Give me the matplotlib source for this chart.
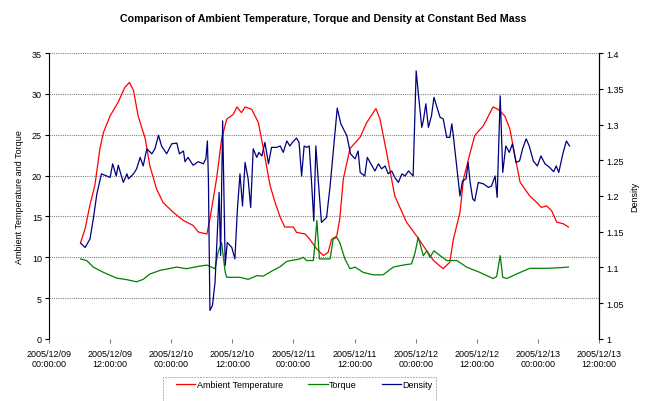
import datetime as dt
import matplotlib
matplotlib.use("Agg")
import matplotlib.pyplot as plt
import matplotlib.dates as mdates
from matplotlib.patches import Rectangle

plt.rcParams['font.family'] = ['Liberation Sans', 'DejaVu Sans']

# hours after 2005/12/09 00:00:00
temp_hours = [6.2, 7.1, 8.0, 9.0, 10.0, 10.7, 12.0, 13.6, 14.9, 15.8, 16.6, 17.5, 18.9, 19.8, 21.1, 22.4,
              24.4, 26.4, 28.3, 29.3, 31.0, 31.6, 32.9, 33.9, 34.9, 36.2, 36.9, 37.8, 38.5, 39.8, 41.1, 42.1,
              43.4, 44.4, 45.4, 46.3, 48.0, 48.6, 50.3, 51.2, 52.6, 53.9, 54.8, 55.5, 56.5, 57.1, 57.8, 59.1,
              61.1, 62.4, 64.2, 65.0, 66.3, 67.9, 70.2, 72.2, 73.5, 75.5, 77.4, 78.7, 79.4, 80.7, 81.4, 82.7,
              83.6, 85.3, 87.2, 88.2, 89.5, 90.5, 91.5, 92.5, 94.4, 95.8, 96.7, 97.7, 98.7, 99.7, 101.0, 102.0]
temperature = [11.8, 13.5, 16.3, 18.8, 23.3, 25.3, 27.3, 29.0, 30.8, 31.4, 30.4, 27.3, 24.5, 21.2, 18.4, 16.7,
               15.5, 14.5, 13.9, 13.1, 12.85, 14.7, 19.6, 24.5, 26.9, 27.5, 28.4, 27.7, 28.4, 28.1, 26.5, 23.3,
               18.8, 16.7, 14.9, 13.7, 13.7, 13.05, 12.85, 12.2, 11.0, 10.2, 10.6, 12.2, 12.6, 14.7, 19.6, 23.3,
               24.7, 26.5, 28.2, 26.9, 22.8, 17.5, 14.3, 12.6, 11.4, 9.6, 8.6, 9.4, 12.2, 15.5, 19.6, 22.8,
               24.9, 26.1, 28.4, 28.1, 27.3, 25.7, 22.4, 19.2, 17.5, 16.7, 16.1, 16.3, 15.7, 14.3, 14.1, 13.7]

torque_hours = [6.2, 7.4, 8.7, 10.7, 13.3, 15.3, 17.2, 18.5, 19.8, 21.8, 25.1, 27.0, 29.0, 31.0, 32.6, 33.2,
                33.9, 34.6, 34.9, 37.5, 39.1, 40.8, 42.1, 44.0, 45.4, 46.7, 49.3, 49.9, 50.6, 51.9, 52.2, 52.6,
                53.1, 55.2, 55.8, 56.5, 57.1, 58.1, 59.1, 60.1, 61.7, 63.7, 65.6, 67.6, 69.6, 71.2, 71.9, 72.5,
                73.5, 74.2, 74.8, 75.6, 76.8, 78.1, 80.1, 82.0, 84.6, 87.2, 87.9, 88.6, 89.1, 89.9, 91.8, 94.4,
                97.7, 99.7, 102.0]
torque = [9.8, 9.6, 8.8, 8.15, 7.45, 7.26, 7.0, 7.3, 7.95, 8.4, 8.8, 8.6, 8.85, 9.05, 8.6, 10.6,
          11.8, 8.15, 7.55, 7.55, 7.3, 7.75, 7.7, 8.4, 8.85, 9.5, 9.8, 10.0, 9.6, 9.6, 11.4, 14.5,
          9.8, 9.8, 12.2, 12.45, 11.8, 9.8, 8.6, 8.8, 8.15, 7.85, 7.85, 8.8, 9.05, 9.2, 10.6, 12.45,
          10.2, 10.8, 10.0, 10.8, 10.2, 9.6, 9.6, 8.8, 8.15, 7.4, 7.65, 10.2, 7.55, 7.4, 7.95, 8.65,
          8.65, 8.7, 8.8]

dens_hours = [6.2, 7.1, 8.05, 8.7, 9.4, 10.3, 11.3, 12.0, 12.5, 13.2, 13.6, 14.6, 15.3, 15.6, 16.6, 17.2,
              17.9, 18.5, 19.2, 20.2, 20.8, 21.5, 22.1, 23.1, 24.1, 25.1, 25.6, 26.4, 26.7, 27.3, 28.3, 29.3,
              30.3, 30.8, 31.1, 31.3, 31.6, 32.1, 32.6, 33.0, 33.4, 33.7, 34.1, 34.4, 34.6, 35.0, 35.9, 36.5,
              37.0, 37.5, 38.0, 38.5, 39.1, 39.6, 40.1, 40.8, 41.2, 41.8, 42.4, 43.1, 43.7, 44.7, 45.4, 46.0,
              46.7, 47.3, 47.8, 48.6, 49.1, 49.6, 50.1, 50.6, 51.1, 51.6, 52.0, 52.4, 52.9, 53.5, 54.5, 55.2,
              55.8, 56.6, 57.3, 58.5, 59.2, 60.1, 60.7, 61.1, 62.0, 62.5, 63.2, 64.0, 64.7, 65.3, 66.0, 66.6,
              67.3, 67.9, 68.6, 69.3, 69.9, 70.6, 71.5, 72.1, 72.5, 73.2, 73.5, 74.0, 74.5, 75.1, 75.6, 76.1,
              76.8, 77.4, 78.1, 78.7, 79.1, 79.4, 79.9, 80.7, 81.2, 81.9, 82.3, 82.7, 83.2, 83.6, 84.3, 85.3,
              86.3, 86.9, 87.6, 88.0, 88.6, 89.1, 89.7, 90.4, 91.0, 91.7, 92.4, 93.0, 93.7, 94.3, 95.1, 95.9,
              96.6, 97.4, 98.3, 99.1, 99.6, 100.1, 100.9, 101.6, 102.2]
density = [1.134, 1.128, 1.140, 1.168, 1.203, 1.231, 1.228, 1.226, 1.245, 1.228, 1.243, 1.219, 1.231, 1.224,
           1.231, 1.238, 1.254, 1.242, 1.266, 1.259, 1.266, 1.285, 1.270, 1.259, 1.273, 1.274, 1.259, 1.263,
           1.248, 1.254, 1.243, 1.248, 1.245, 1.252, 1.277, 1.224, 1.040, 1.047, 1.079, 1.140, 1.205, 1.117,
           1.305, 1.186, 1.103, 1.135, 1.128, 1.112, 1.182, 1.231, 1.186, 1.247, 1.224, 1.184, 1.266, 1.254,
           1.261, 1.256, 1.275, 1.245, 1.268, 1.268, 1.270, 1.261, 1.277, 1.270, 1.275, 1.281, 1.275, 1.228,
           1.270, 1.268, 1.270, 1.214, 1.165, 1.270, 1.219, 1.163, 1.170, 1.214, 1.261, 1.323, 1.301, 1.284,
           1.259, 1.252, 1.263, 1.233, 1.228, 1.254, 1.245, 1.235, 1.245, 1.238, 1.242, 1.231, 1.235, 1.226,
           1.219, 1.231, 1.228, 1.235, 1.228, 1.375, 1.345, 1.296, 1.305, 1.329, 1.296, 1.312, 1.338, 1.326,
           1.310, 1.308, 1.282, 1.282, 1.301, 1.284, 1.252, 1.200, 1.221, 1.224, 1.247, 1.219, 1.196, 1.193,
           1.219, 1.217, 1.212, 1.214, 1.228, 1.198, 1.340, 1.233, 1.270, 1.261, 1.273, 1.247, 1.249, 1.266,
           1.280, 1.270, 1.249, 1.242, 1.256, 1.245, 1.240, 1.234, 1.242, 1.233, 1.259, 1.277, 1.270]

start = dt.datetime(2005, 12, 9)


def to_dates(hours):
    return [start + dt.timedelta(hours=h) for h in hours]


W, H = 650, 402
fig = plt.figure(figsize=(W / 100, H / 100), dpi=100)
ax = fig.add_axes([49 / W, 1 - 340 / H, 550 / W, 286 / H])
ax2 = ax.twinx()

# grid
ax.set_axisbelow(True)
ax.yaxis.grid(True, linestyle=(0, (1, 1)), color='#808080', linewidth=0.8)

l1, = ax.plot(to_dates(temp_hours), temperature, color='#ff0000', lw=0.9, label='Ambient Temperature')
l2, = ax.plot(to_dates(torque_hours), torque, color='#008000', lw=0.9, label='Torque')
l3, = ax2.plot(to_dates(dens_hours), density, color='#000080', lw=0.9, label='Density')

ax.set_xlim(start, start + dt.timedelta(hours=108))
ax.set_ylim(0, 35)
ax2.set_ylim(1, 1.4)
ax.set_yticks(range(0, 36, 5))
ax2.set_yticks([1, 1.05, 1.1, 1.15, 1.2, 1.25, 1.3, 1.35, 1.4])
ax2.set_yticklabels(['1', '1.05', '1.1', '1.15', '1.2', '1.25', '1.3', '1.35', '1.4'])

ax.xaxis.set_major_locator(mdates.HourLocator(byhour=[0, 12]))
ax.xaxis.set_major_formatter(mdates.DateFormatter('%Y/%m/%d\n%H:%M:%S'))

for a in (ax, ax2):
    a.spines['top'].set_visible(False)
    a.spines['bottom'].set_visible(False)
    a.tick_params(labelsize=6.5, length=3, width=0.8, colors='black', pad=2)
ax2.spines['left'].set_visible(False)
ax.spines['left'].set_linewidth(0.8)
ax2.spines['right'].set_linewidth(0.8)
ax.tick_params(axis='x', pad=4, color='#808080')

ax.set_ylabel('Ambient Temperature and Torque', fontsize=6.5, labelpad=6)
ax2.set_ylabel('Density', fontsize=6.5, labelpad=5)
fig.text(0.497, 1 - 19 / H,
         'Comparison of Ambient Temperature, Torque and Density at Constant Bed Mass',
         fontsize=7.7, fontweight='bold', ha='center', va='center')

# legend box (bottom edge runs off the figure, as in the original)
fig.patches.append(Rectangle((163 / W, -0.01), 273 / W, 0.01 + 24 / H, transform=fig.transFigure,
                             fill=False, edgecolor='#b0b0b0', linewidth=0.7, linestyle=(0, (2, 1))))
fig.legend(handles=[l1, l2, l3], loc='upper left', bbox_to_anchor=(176 / W, 1 - 381 / H),
           ncol=3, fontsize=6.5, frameon=False, handlelength=2.15,
           handletextpad=0.15, columnspacing=2.8, borderpad=0, borderaxespad=0)

fig.savefig('out.png', dpi=100)
